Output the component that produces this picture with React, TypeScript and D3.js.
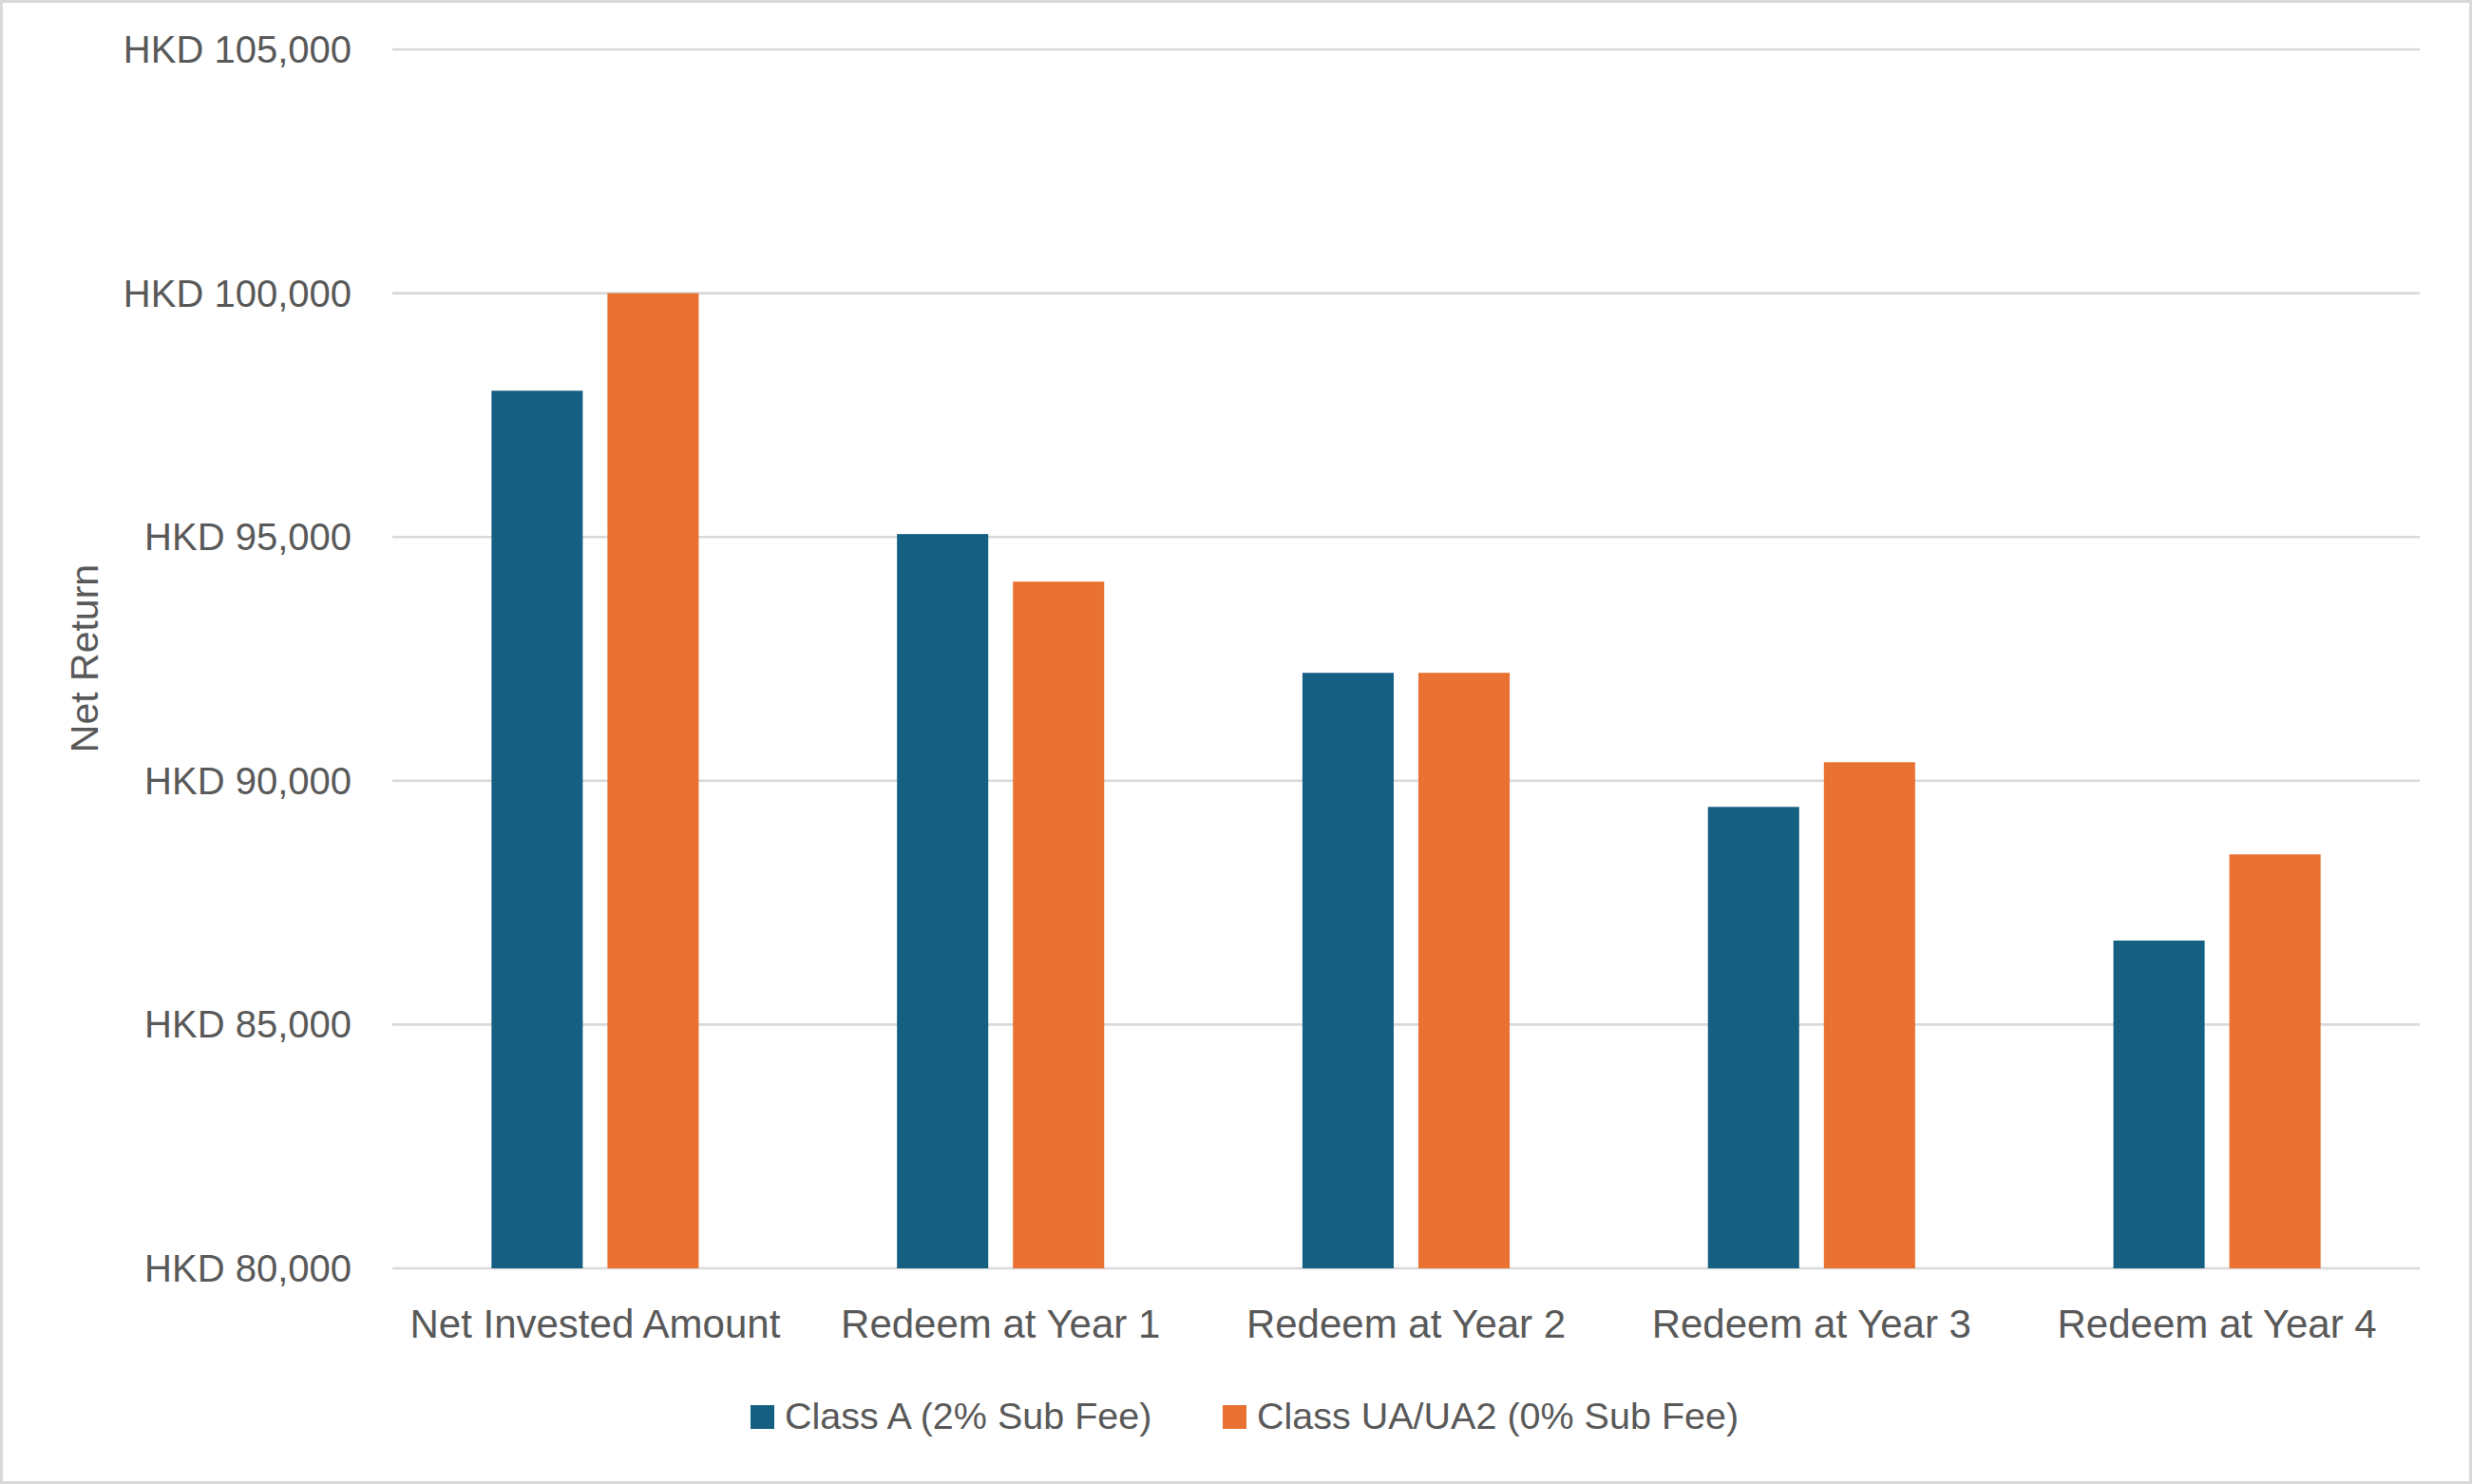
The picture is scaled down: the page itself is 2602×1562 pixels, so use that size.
import React, { useRef, useEffect } from 'react';
import * as d3 from 'd3';

const categories = ['Net Invested Amount', 'Redeem at Year 1', 'Redeem at Year 2', 'Redeem at Year 3', 'Redeem at Year 4'];
const seriesNames = ['Class A (2% Sub Fee)', 'Class UA/UA2 (0% Sub Fee)'];
const classA = [98000, 95060, 92214, 89464, 86723];
const classUA = [100000, 94084, 92214, 90380, 88490];
const yTicks = [80000, 85000, 90000, 95000, 100000, 105000];
const colors = ['#156082', '#E97132'];

const W = 2602;
const H = 1562;
const FONT = '"Liberation Sans", Arial, sans-serif';
const TEXT = '#595959';
const GRID = '#d9d9d9';

const App = () => {
  const svgRef = useRef<SVGSVGElement>(null);

  useEffect(() => {
    const svg = d3.select(svgRef.current);
    svg.selectAll('*').remove();

    const plot = { left: 413, right: 2547, top: 52, bottom: 1335 };

    // border around the chart
    svg.append('rect')
      .attr('x', 1.5).attr('y', 1.5)
      .attr('width', W - 3).attr('height', H - 3)
      .attr('fill', '#fff')
      .attr('stroke', GRID)
      .attr('stroke-width', 3);

    const x0 = d3.scaleBand()
      .domain(categories)
      .range([plot.left, plot.right])
      .paddingInner(0)
      .paddingOuter(0);

    const x1 = d3.scaleBand()
      .domain(seriesNames)
      .range([0, x0.bandwidth()])
      .paddingInner(0.213)
      .paddingOuter(0.855);

    const y = d3.scaleLinear()
      .domain([80000, 105000])
      .range([plot.bottom, plot.top]);

    const fmt = d3.format(',');

    // grid lines + y labels
    const yg = svg.append('g');
    yg.selectAll('line')
      .data(yTicks)
      .join('line')
      .attr('x1', plot.left).attr('x2', plot.right)
      .attr('y1', d => y(d)).attr('y2', d => y(d))
      .attr('stroke', GRID)
      .attr('stroke-width', 2.6);

    yg.selectAll('text')
      .data(yTicks)
      .join('text')
      .attr('x', 370)
      .attr('y', d => y(d) + 14)
      .attr('text-anchor', 'end')
      .attr('font-family', FONT)
      .attr('font-size', 40)
      .attr('fill', TEXT)
      .text(d => `HKD ${fmt(d)}`);

    // bars
    const rows = categories.map((c, i) => ({ cat: c, vals: [classA[i], classUA[i]] }));
    const groups = svg.selectAll('.grp')
      .data(rows)
      .join('g')
      .attr('class', 'grp')
      .attr('transform', d => `translate(${x0(d.cat)},0)`);

    groups.selectAll('rect')
      .data(d => d.vals.map((v, j) => ({ name: seriesNames[j], v, j })))
      .join('rect')
      .attr('x', d => x1(d.name)!)
      .attr('y', d => y(d.v))
      .attr('width', x1.bandwidth())
      .attr('height', d => plot.bottom - y(d.v))
      .attr('fill', d => colors[d.j]);

    // x labels
    svg.append('g').selectAll('text')
      .data(categories)
      .join('text')
      .attr('x', d => x0(d)! + x0.bandwidth() / 2)
      .attr('y', 1408)
      .attr('text-anchor', 'middle')
      .attr('font-family', FONT)
      .attr('font-size', 42)
      .attr('fill', TEXT)
      .text(d => d);

    // y axis title
    svg.append('text')
      .attr('transform', 'translate(103,693) rotate(-90)')
      .attr('text-anchor', 'middle')
      .attr('font-family', FONT)
      .attr('font-size', 41)
      .attr('fill', TEXT)
      .text('Net Return');

    // legend
    const legendX = [790, 1287];
    const lg = svg.append('g').selectAll('g')
      .data(seriesNames)
      .join('g')
      .attr('transform', (d, i) => `translate(${legendX[i]},1479)`);
    lg.append('rect')
      .attr('width', 25).attr('height', 25)
      .attr('fill', (d, i) => colors[i]);
    lg.append('text')
      .attr('x', 36).attr('y', 25)
      .attr('font-family', FONT)
      .attr('font-size', 39.5)
      .attr('fill', TEXT)
      .text(d => d);
  }, []);

  return (
    <svg ref={svgRef} width={W} height={H}
      style={{ position: 'absolute', left: 0, top: 0, display: 'block', background: '#fff' }} />
  );
};

export default App;
